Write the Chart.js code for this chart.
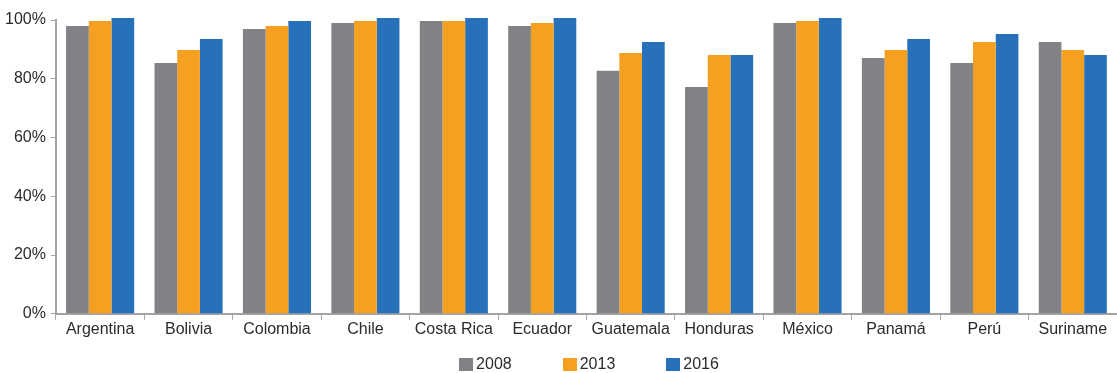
<!DOCTYPE html>
<html lang="es">
<head>
  <meta charset="UTF-8" />
  <title>Cobertura 2008-2016</title>
  <script src="https://cdn.jsdelivr.net/npm/chart.js"></script>
  <style>
    html, body { margin: 0; padding: 0; background: #fff; }
    #wrap { position: relative; width: 1117px; height: 373px; }
    #legend {
      position: absolute;
      left: 61px;
      right: 0;
      top: 354px;
      display: flex;
      justify-content: center;
      gap: 51px;
      font-family: "Liberation Sans", Arial, sans-serif;
      font-size: 16px;
      line-height: 20px;
      color: #2b2b2b;
    }
    #legend .item { display: flex; align-items: center; }
    #legend .box { width: 14px; height: 13px; margin-right: 3px; margin-top: 1px; }
  </style>
</head>
<body>
  <div id="wrap">
    <canvas id="chart" width="1117" height="373"></canvas>
    <div id="legend"></div>
  </div>

  <script>
    const countries = ["Argentina", "Bolivia", "Colombia", "Chile", "Costa Rica", "Ecuador",
      "Guatemala", "Honduras", "México", "Panamá", "Perú", "Suriname"];
    const years = ["2008", "2013", "2016"];
    const v2008 = [98.0, 85.4, 96.9, 99.0, 99.7, 98.0, 82.7, 77.2, 99.0, 87.1, 85.4, 92.5];
    const v2013 = [99.7, 89.8, 98.0, 99.7, 99.7, 99.0, 88.8, 88.1, 99.7, 89.8, 92.5, 89.8];
    const v2016 = [100.7, 93.5, 99.7, 100.7, 100.7, 100.7, 92.5, 88.1, 100.7, 93.5, 95.2, 88.1];
    const yTicks = [0, 20, 40, 60, 80, 100];
    const colors = ["#818286", "#f5a020", "#2671ba"];

    const axisColor = "#a3a3a3";
    const textColor = "#2b2b2b";
    const family = "'Liberation Sans', Arial, sans-serif";

    const chart = new Chart(document.getElementById("chart"), {
      type: "bar",
      data: {
        labels: countries,
        datasets: [v2008, v2013, v2016].map((d, i) => ({
          label: years[i],
          data: d,
          backgroundColor: colors[i],
          borderWidth: 0,
          clip: false,
          categoryPercentage: 0.77,
          barPercentage: 1.0
        }))
      },
      options: {
        responsive: false,
        animation: false,
        layout: { padding: { top: 20, right: 0, left: 0, bottom: 34 } },
        plugins: {
          tooltip: { enabled: false },
          legend: { display: false }
        },
        scales: {
          x: {
            grid: {
              drawOnChartArea: false,
              drawTicks: true,
              tickLength: 6,
              color: axisColor,
              offset: true
            },
            border: { color: axisColor, width: 2 },
            ticks: {
              font: { family, size: 16 },
              color: textColor,
              padding: 0,
              maxRotation: 0,
              autoSkip: false
            }
          },
          y: {
            min: 0,
            max: 100,
            afterBuildTicks: axis => { axis.ticks = yTicks.map(v => ({ value: v })); },
            grid: {
              drawOnChartArea: false,
              drawTicks: true,
              tickLength: 5,
              color: axisColor
            },
            border: { color: axisColor, width: 2 },
            ticks: {
              font: { family, size: 16 },
              color: textColor,
              padding: 5,
              callback: v => v + "%"
            }
          }
        }
      }
    });

    // legend in html, built from the datasets
    const legend = document.getElementById("legend");
    chart.data.datasets.forEach(ds => {
      const item = document.createElement("div");
      item.className = "item";
      item.innerHTML = `<span class="box" style="background:${ds.backgroundColor}"></span><span>${ds.label}</span>`;
      legend.appendChild(item);
    });
  </script>
</body>
</html>
